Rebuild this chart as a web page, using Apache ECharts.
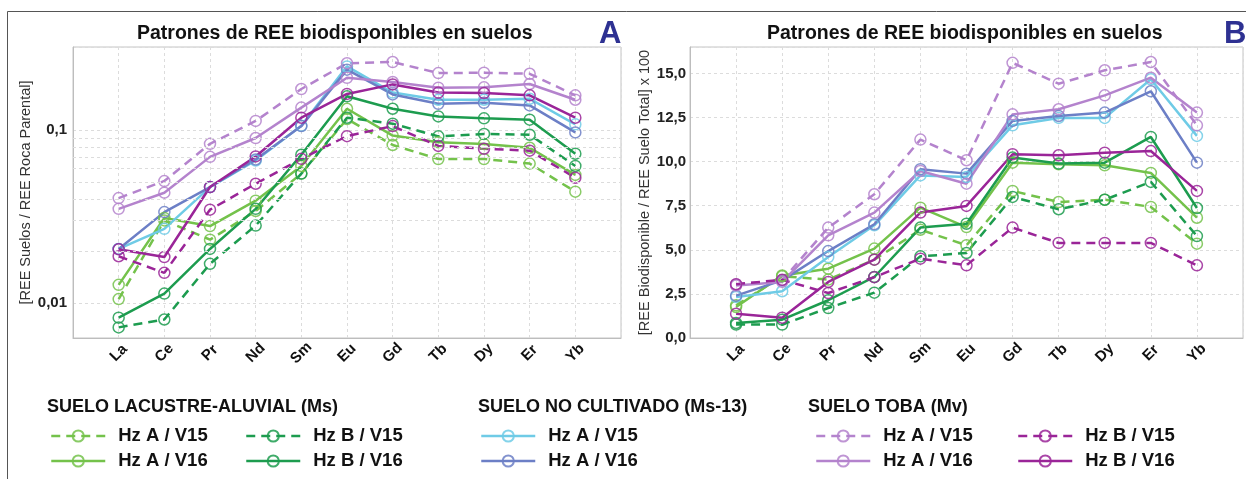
<!DOCTYPE html>
<html><head><meta charset="utf-8">
<script src="https://cdn.jsdelivr.net/npm/echarts@6/dist/echarts.min.js"></script>
<style>html,body{margin:0;padding:0;background:#fff}#c{width:1246px;height:479px}</style>
</head><body><div id="c"></div>
<script>
const elements = ['La','Ce','Pr','Nd','Sm','Eu','Gd','Tb','Dy','Er','Yb'];
const chartTitle = 'Patrones de REE biodisponibles en suelos';
const yNameA = '[REE Suelos / REE Roca Parental]';
const yNameB = '[REE Biodisponible / REE Suelo Total] x 100';
const minorGridA = [0.02,0.03,0.04,0.05,0.06,0.07,0.08,0.09];

// Panel A (log scale)
const A_Ms_A15 = [0.0105, 0.030, 0.0232, 0.034, 0.056, 0.116, 0.082, 0.068, 0.068, 0.064, 0.044];
const A_Ms_A16 = [0.0127, 0.031, 0.0278, 0.039, 0.062, 0.133, 0.093, 0.085, 0.083, 0.079, 0.055];
const A_Ms_B15 = [0.0072, 0.0080, 0.0168, 0.028, 0.056, 0.118, 0.109, 0.092, 0.095, 0.094, 0.062];
const A_Ms_B16 = [0.0082, 0.0113, 0.0205, 0.035, 0.072, 0.157, 0.133, 0.120, 0.117, 0.115, 0.073];
const A_Nc_A15 = [0.0205, 0.0268, 0.0468, 0.0667, 0.106, 0.234, 0.165, 0.150, 0.150, 0.152, 0.108];
const A_Nc_A16 = [0.0205, 0.0335, 0.0468, 0.0676, 0.1055, 0.224, 0.161, 0.142, 0.144, 0.139, 0.097];
const A_Mv_A15 = [0.0404, 0.0507, 0.0833, 0.113, 0.173, 0.244, 0.248, 0.214, 0.215, 0.212, 0.159];
const A_Mv_A16 = [0.035, 0.0434, 0.070, 0.090, 0.135, 0.201, 0.190, 0.176, 0.177, 0.185, 0.150];
const A_Mv_B15 = [0.0186, 0.0149, 0.0346, 0.0489, 0.0682, 0.0923, 0.1055, 0.081, 0.078, 0.076, 0.053];
const A_Mv_B16 = [0.0204, 0.0184, 0.0468, 0.0704, 0.118, 0.162, 0.184, 0.165, 0.164, 0.159, 0.118];

// Panel B
const B_Ms_A15 = [1.85, 3.50, 3.31, 4.44, 6.14, 5.26, 8.34, 7.71, 7.84, 7.43, 5.35];
const B_Ms_A16 = [1.76, 3.55, 3.93, 5.07, 7.39, 6.29, 9.94, 9.85, 9.79, 9.36, 6.82];
const B_Ms_B15 = [0.76, 0.76, 1.70, 2.57, 4.63, 4.82, 8.00, 7.30, 7.84, 8.85, 5.78];
const B_Ms_B16 = [0.85, 1.04, 2.14, 3.46, 6.26, 6.48, 10.23, 9.89, 9.94, 11.40, 7.37];
const B_Nc_A15 = [2.33, 2.65, 4.59, 6.39, 9.22, 9.13, 12.06, 12.48, 12.48, 14.67, 11.46];
const B_Nc_A16 = [2.40, 3.27, 4.93, 6.45, 9.57, 9.32, 12.31, 12.59, 12.78, 13.99, 9.94];
const B_Mv_A15 = [3.04, 3.27, 6.26, 8.15, 11.25, 10.08, 15.60, 14.42, 15.18, 15.65, 12.06];
const B_Mv_A16 = [2.97, 3.18, 5.82, 7.11, 9.47, 8.75, 12.68, 12.97, 13.76, 14.76, 12.78];
const B_Mv_B15 = [3.05, 3.30, 2.55, 3.45, 4.50, 4.12, 6.26, 5.39, 5.39, 5.39, 4.12];
const B_Mv_B16 = [1.38, 1.15, 3.18, 4.44, 7.11, 7.49, 10.42, 10.36, 10.51, 10.60, 8.34];

const groupTitles = ['SUELO LACUSTRE-ALUVIAL (Ms)', 'SUELO NO CULTIVADO (Ms-13)', 'SUELO TOBA (Mv)'];

const FONT = '"Liberation Sans", Arial, sans-serif';
const C = {
  lgreen: '#74c24b', dgreen: '#1d9c4f', cyan: '#6fcbe6', blue: '#6c7fc6',
  lpurple: '#b483cd', magenta: '#9a2598'
};

const defs = [
  {name:'Ms|Hz A / V15', color:C.lgreen, dash:true,  a:A_Ms_A15, b:B_Ms_A15},
  {name:'Ms|Hz A / V16', color:C.lgreen, dash:false, a:A_Ms_A16, b:B_Ms_A16},
  {name:'Ms|Hz B / V15', color:C.dgreen, dash:true,  a:A_Ms_B15, b:B_Ms_B15},
  {name:'Ms|Hz B / V16', color:C.dgreen, dash:false, a:A_Ms_B16, b:B_Ms_B16},
  {name:'Nc|Hz A / V15', color:C.cyan,   dash:false, a:A_Nc_A15, b:B_Nc_A15},
  {name:'Nc|Hz A / V16', color:C.blue,   dash:false, a:A_Nc_A16, b:B_Nc_A16},
  {name:'Mv|Hz A / V15', color:C.lpurple,dash:true,  a:A_Mv_A15, b:B_Mv_A15},
  {name:'Mv|Hz A / V16', color:C.lpurple,dash:false, a:A_Mv_A16, b:B_Mv_A16},
  {name:'Mv|Hz B / V15', color:C.magenta,dash:true,  a:A_Mv_B15, b:B_Mv_B15},
  {name:'Mv|Hz B / V16', color:C.magenta,dash:false, a:A_Mv_B16, b:B_Mv_B16}
];

function mkSeries(d, vals, idx) {
  return {
    type:'line', name:d.name, xAxisIndex:idx, yAxisIndex:idx,
    data: vals.map((v,i)=>[i+1, v]),
    symbol:'circle', symbolSize:11,
    itemStyle:{color:'rgba(255,255,255,0)', borderColor:d.color, borderWidth:1.5, opacity:0.85},
    lineStyle:{color:d.color, width:2.5, type: d.dash ? [9,6] : 'solid'},
    emphasis:{disabled:true}, animation:false
  };
}

const series = [];
defs.forEach(d => series.push(mkSeries(d, d.a, 0)));
defs.forEach(d => series.push(mkSeries(d, d.b, 1)));
series.unshift({
  type:'line', name:'minor', xAxisIndex:0, yAxisIndex:0, data:[], z:1, silent:true,
  markLine:{silent:true, symbol:'none', label:{show:false}, animation:false,
    lineStyle:{color:'#dcdcdc', type:[3,3], width:1},
    data: minorGridA.map(v=>({yAxis:v}))}
});

const splitStyle = {show:true, lineStyle:{color:'#dcdcdc', type:[3,3], width:1}};
function xAxis(idx){
  return {type:'value', gridIndex:idx, min:0, max:12, interval:1,
    axisLine:{show:true, lineStyle:{color:'#bdbdbd'}}, axisTick:{show:false},
    axisLabel:{formatter:v=>elements[v-1]||'', rotate:45, fontWeight:'bold', fontSize:15,
      color:'#111', fontFamily:FONT, align:'center', verticalAlign:'middle', margin:15},
    splitLine:splitStyle};
}

const yA = {type:'log', logBase:10, gridIndex:0, min:0.00625, max:0.303,
  name:yNameA, nameLocation:'middle', nameGap:40, nameRotate:90,
  nameTextStyle:{fontSize:14.5, color:'#333', fontFamily:FONT},
  axisLine:{show:true, lineStyle:{color:'#bdbdbd'}}, axisTick:{show:false},
  axisLabel:{formatter:v=>{const l=Math.log10(v); return Math.abs(l-Math.round(l))<1e-6 ? String(+Math.pow(10,Math.round(l)).toFixed(4)).replace('.',',') : '';},
    fontWeight:'bold', fontSize:15, color:'#222', fontFamily:FONT, margin:6},
  splitLine:splitStyle};
const yB = {type:'value', gridIndex:1, min:0, max:16.5, interval:2.5,
  name:yNameB, nameLocation:'middle', nameGap:38, nameRotate:90,
  nameTextStyle:{fontSize:14.5, color:'#333', fontFamily:FONT},
  axisLine:{show:true, lineStyle:{color:'#bdbdbd'}}, axisTick:{show:false},
  axisLabel:{formatter:v=>(Math.abs(v/2.5-Math.round(v/2.5))<1e-6 ? v.toFixed(1).replace('.',',') : ''),
    fontWeight:'bold', fontSize:15, color:'#222', fontFamily:FONT, margin:4},
  splitLine:splitStyle};

function legend(left, names){
  return {left:left, top:421, orient:'vertical', itemWidth:54, itemHeight:14, itemGap:5,
    data:names, selectedMode:false, formatter:n=>n.split('|')[1],
    lineStyle:{width:2.5},
    textStyle:{fontSize:18.5, fontWeight:'bold', color:'#111', fontFamily:FONT, lineHeight:20, padding:[0,0,0,8]}};
}

const option = {
  backgroundColor:'#fff', animation:false,
  grid:[
    {left:73, top:47, width:548, height:291, show:true, borderColor:'#c4c4c4', borderWidth:1, backgroundColor:'#fff'},
    {left:690, top:47, width:553, height:291, show:true, borderColor:'#c4c4c4', borderWidth:1, backgroundColor:'#fff'}
  ],
  xAxis:[xAxis(0), xAxis(1)],
  yAxis:[yA, yB],
  legend:[
    legend(45, ['Ms|Hz A / V15','Ms|Hz A / V16']),
    legend(240, ['Ms|Hz B / V15','Ms|Hz B / V16']),
    legend(475, ['Nc|Hz A / V15','Nc|Hz A / V16']),
    legend(810, ['Mv|Hz A / V15','Mv|Hz A / V16']),
    legend(1012, ['Mv|Hz B / V15','Mv|Hz B / V16'])
  ],
  graphic:[
    {type:'polyline', shape:{points:[[7.5,479],[7.5,11.5],[1246,11.5]]}, style:{stroke:'#555', lineWidth:1, fill:null}},
    {type:'text', left:137, top:24, style:{text:chartTitle, font:'bold 19.5px '+FONT, fill:'#111'}},
    {type:'text', left:767, top:24, style:{text:chartTitle, font:'bold 19.5px '+FONT, fill:'#111'}},
    {type:'text', left:599, top:19, style:{text:'A', font:'bold 31px '+FONT, fill:'#2e3192'}},
    {type:'text', left:1224, top:19, style:{text:'B', font:'bold 31px '+FONT, fill:'#2e3192'}},
    {type:'text', left:47, top:398, style:{text:groupTitles[0], font:'bold 18px '+FONT, fill:'#111'}},
    {type:'text', left:478, top:398, style:{text:groupTitles[1], font:'bold 18px '+FONT, fill:'#111'}},
    {type:'text', left:808, top:398, style:{text:groupTitles[2], font:'bold 18px '+FONT, fill:'#111'}}
  ],
  series:series
};
const chart = echarts.init(document.getElementById('c'), null, {renderer:'canvas'});
chart.setOption(option);
</script></body></html>
